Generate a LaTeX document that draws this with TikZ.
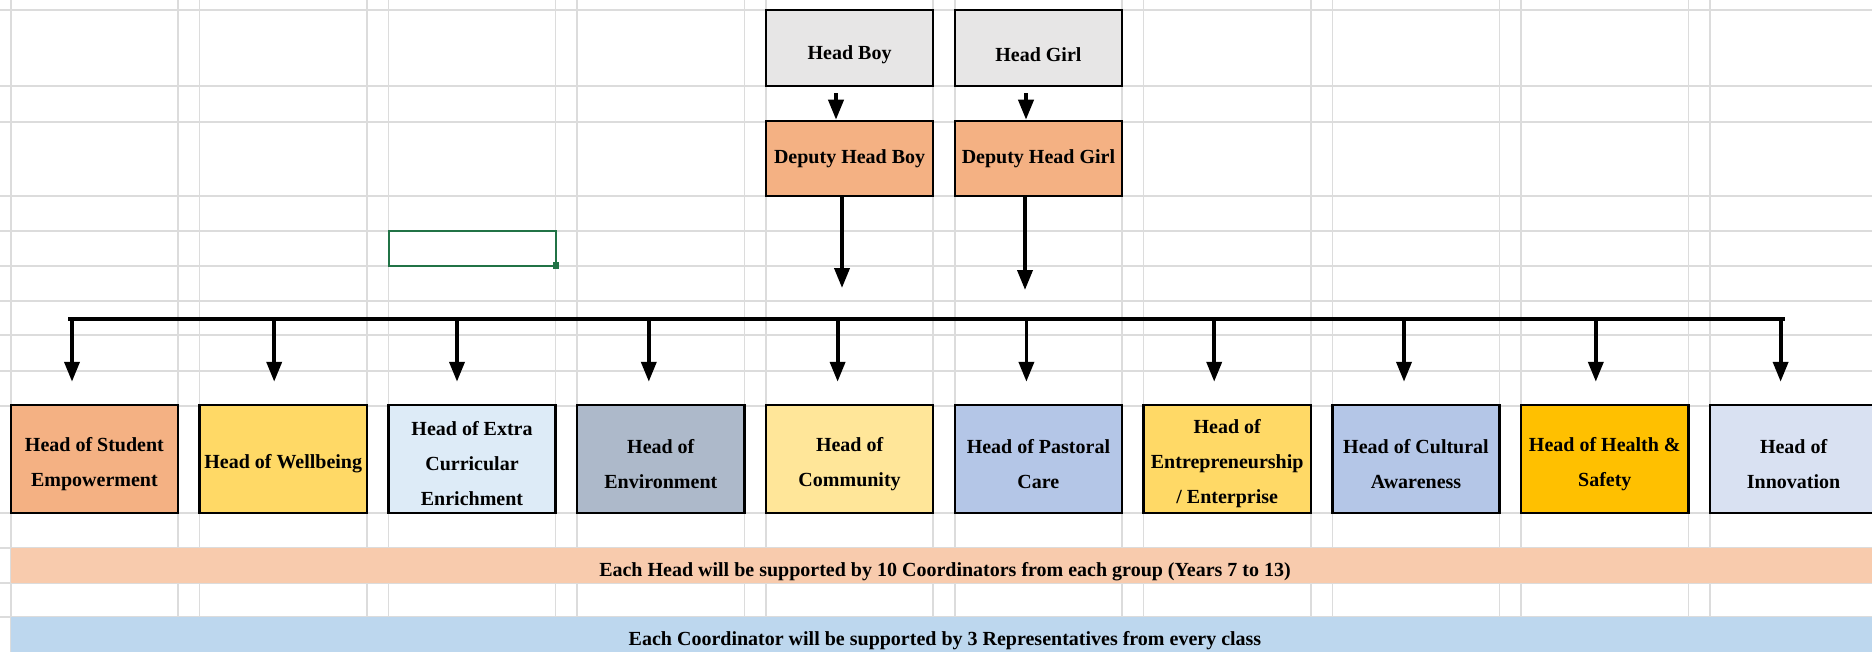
\documentclass[tikz,border=0pt]{standalone}
\usepackage{fontspec}
\setmainfont{Liberation Serif}
\usetikzlibrary{arrows.meta}

\definecolor{gridgray}{HTML}{DCDCDC}
\definecolor{headgray}{HTML}{E7E6E6}
\definecolor{deporange}{HTML}{F4B183}
\definecolor{gold}{HTML}{FFD966}
\definecolor{lightgold}{HTML}{FFE699}
\definecolor{paleblue}{HTML}{DDEBF7}
\definecolor{bluegray}{HTML}{ADB9CA}
\definecolor{midblue}{HTML}{B4C6E7}
\definecolor{amber}{HTML}{FFC000}
\definecolor{lavblue}{HTML}{D9E1F2}
\definecolor{peach}{HTML}{F8CBAD}
\definecolor{skyband}{HTML}{BDD7EE}
\definecolor{excelgreen}{HTML}{217346}

\tikzset{every picture/.style={line width=0.75pt}}
\tikzset{
  cell/.style={draw=black, line width=1.25pt, inner sep=0pt, minimum width=83.6pt},
  celltext/.style={align=center, inner sep=0pt, yshift=#1,
    font=\bfseries\fontsize{10}{17.5}\selectfont},
  celltext/.default=-2.5pt,
  topcell/.style={cell, minimum height=38pt},
  depcell/.style={cell, fill=deporange, minimum height=37.5pt},
  headcell/.style={cell, minimum height=54pt},
  band/.style={inner sep=0pt, minimum width=934pt, minimum height=17.8pt,
    text height=10.9pt, text depth=0pt, font=\bfseries\fontsize{10}{12}\selectfont},
  drop/.style={line width=1.9pt, -{Triangle[length=10pt,width=7.5pt]}},
  busline/.style={line width=2.2pt, line cap=rect}
}

\begin{document}
\begin{tikzpicture}[x=0.5pt,y=0.5pt,yscale=-1,xscale=1]
\useasboundingbox (0,0) rectangle (1872,652);

%Grid: spreadsheet lines
\foreach \k in {0,...,9}{
  \draw[gridgray, line width=0.8pt] (10.8+188.8*\k,0) -- (10.8+188.8*\k,652);
  \draw[gridgray, line width=0.8pt] (178+188.8*\k,0) -- (178+188.8*\k,652);
}
\foreach \r in {10,86,122,196,231,266,301,335,371,406,513,548,583,617}{
  \draw[gridgray, line width=0.8pt] (0,\r) -- (1872,\r);
}

%Shape: selected cell
\draw[excelgreen, line width=1pt] (389,231) rectangle (556,266);
\fill[excelgreen] (553,262) rectangle (559,269);

% Top boxes
\node[topcell, fill=headgray, label={[celltext=-3.5pt]center:Head Boy}] (hb) at (849.6,48) {};
\node[topcell, fill=headgray, label={[celltext=-3.5pt]center:Head Girl}] (hg) at (1038.4,48) {};
\node[depcell, label={[celltext=0pt]center:Deputy Head Boy}] (dhb) at (849.6,158.5) {};
\node[depcell, label={[celltext=0pt]center:Deputy Head Girl}] (dhg) at (1038.4,158.5) {};

% Head boxes
\node[headcell, fill=deporange, label={[celltext]center:{Head of Student\\Empowerment}}] (b1) at (94.4,459) {};
\node[headcell, fill=gold, label={[celltext]center:{Head of Wellbeing}}] (b2) at (283.2,459) {};
\node[headcell, fill=paleblue, label={[celltext]center:{Head of Extra\\Curricular\\Enrichment}}] (b3) at (472,459) {};
\node[headcell, fill=bluegray, label={[celltext]center:{Head of\\Environment}}] (b4) at (660.8,459) {};
\node[headcell, fill=lightgold, label={[celltext]center:{Head of\\Community}}] (b5) at (849.6,459) {};
\node[headcell, fill=midblue, label={[celltext]center:{Head of Pastoral\\Care}}] (b6) at (1038.4,459) {};
\node[headcell, fill=gold, label={[celltext]center:{Head of\\Entrepreneurship\\/ Enterprise}}] (b7) at (1227.2,459) {};
\node[headcell, fill=midblue, label={[celltext]center:{Head of Cultural\\Awareness}}] (b8) at (1416,459) {};
\node[headcell, fill=amber, label={[celltext]center:{Head of Health \&\\Safety}}] (b9) at (1604.8,459) {};
\node[headcell, fill=lavblue, label={[celltext]center:{Head of\\Innovation}}] (b10) at (1793.6,459) {};

% Bands
\node[band, fill=peach] (note1) at (945,565.5) {Each Head will be supported by 10 Coordinators from each group (Years 7 to 13)};
\node[band, fill=skyband, minimum height=18pt] (note2) at (945,635) {Each Coordinator will be supported by 3 Representatives from every class};

% Connectors
\draw[drop, shorten <=3pt] ([xshift=-6.8pt]hb.south) -- ([xshift=-6.8pt]hb.south |- dhb.north);
\draw[drop, shorten <=3pt] ([xshift=-6.2pt]hg.south) -- ([xshift=-6.2pt]hg.south |- dhg.north);

\coordinate (busL) at (70,319);
\coordinate (busR) at (1783,319);
\draw[busline] (busL) -- (busR);

\draw[drop, shorten >=15.5pt] ([xshift=-3.8pt]dhb.south) -- ([xshift=-3.8pt]dhb.south |- busL);
\draw[drop, shorten >=14.5pt] ([xshift=-6.7pt]dhg.south) -- ([xshift=-6.7pt]dhg.south |- busL);

\foreach \n/\dx in {b1/-22.4,b2/-9,b3/-15,b4/-12,b5/-12,b6/-12,b7/-13,b8/-12,b9/-9,b10/-13}{
  \draw[drop, shorten >=11pt] ([xshift=\dx*0.5pt]\n.north |- busL) -- ([xshift=\dx*0.5pt]\n.north);
}

\end{tikzpicture}
\end{document}
